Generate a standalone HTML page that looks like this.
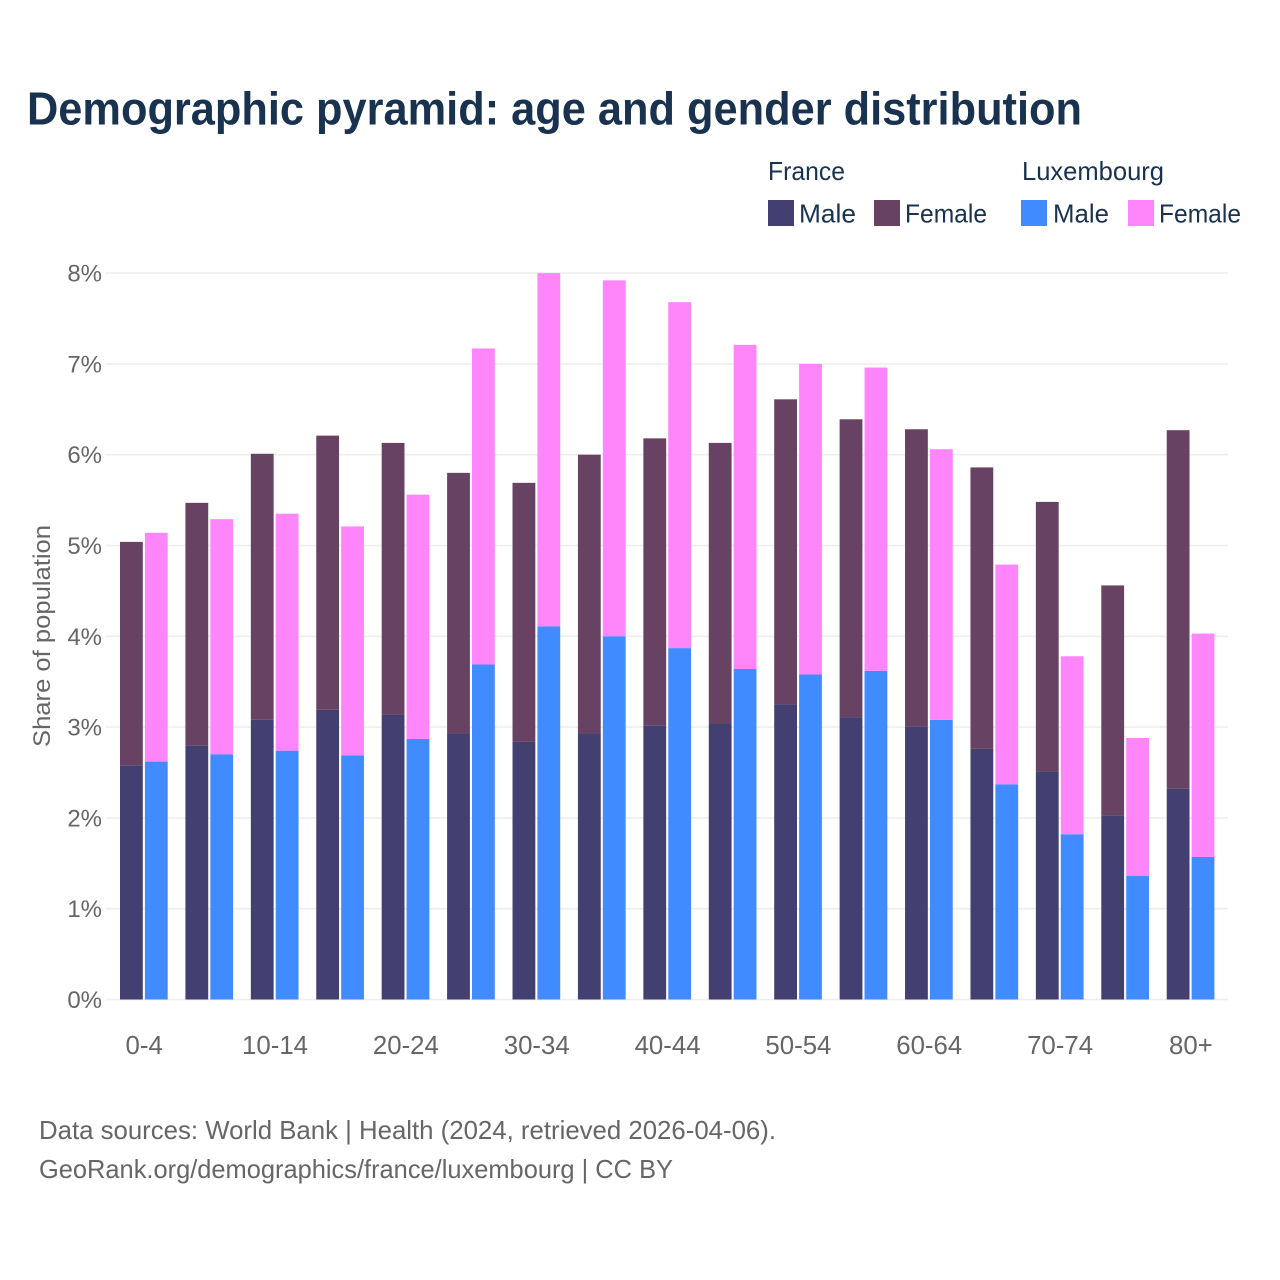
<!DOCTYPE html>
<html lang="en">
<head>
<meta charset="utf-8">
<title>Demographic pyramid: age and gender distribution</title>
<style>
html,body{margin:0;padding:0;background:#fff;width:1280px;height:1280px;overflow:hidden}
svg{display:block}
text{font-family:"Liberation Sans",sans-serif}
.title{font-size:46px;font-weight:700;fill:#193250}
.leg{font-size:26px;fill:#193250}
.tick{font-size:24px;fill:#666}
.foot{font-size:26px;fill:#666}
</style>
</head>
<body>
<svg id="chart" xmlns="http://www.w3.org/2000/svg" width="1280" height="1280" viewBox="0 0 1280 1280">
  <rect width="1280" height="1280" fill="#fff"/>
  <text class="title" x="27" y="124.5" textLength="1055" lengthAdjust="spacingAndGlyphs">Demographic pyramid: age and gender distribution</text>

  <g>
    <text class="leg" x="768" y="180" textLength="77" lengthAdjust="spacingAndGlyphs">France</text>
    <text class="leg" x="1022" y="180" textLength="142" lengthAdjust="spacingAndGlyphs">Luxembourg</text>
    <rect x="768" y="200" width="26" height="26" fill="#433f71"/>
    <text class="leg" x="799" y="222.5" textLength="57" lengthAdjust="spacingAndGlyphs">Male</text>
    <rect x="874" y="200" width="26" height="26" fill="#684263"/>
    <text class="leg" x="905" y="222.5" textLength="82" lengthAdjust="spacingAndGlyphs">Female</text>
    <rect x="1021" y="200" width="26" height="26" fill="#408bff"/>
    <text class="leg" x="1053" y="222.5" textLength="56" lengthAdjust="spacingAndGlyphs">Male</text>
    <rect x="1128" y="200" width="26" height="26" fill="#ff85fb"/>
    <text class="leg" x="1159" y="222.5" textLength="82" lengthAdjust="spacingAndGlyphs">Female</text>
  </g>

  <g id="grid"></g>
  <g id="yticks"></g>
  <g id="bars"></g>
  <g id="xticks"></g>

  <text class="tick" transform="translate(50,636) rotate(-90)" text-anchor="middle" textLength="222" lengthAdjust="spacingAndGlyphs">Share of population</text>

  <text class="foot" x="39" y="1139" textLength="737" lengthAdjust="spacingAndGlyphs">Data sources: World Bank | Health (2024, retrieved 2026-04-06).</text>
  <text class="foot" x="39" y="1178" textLength="634" lengthAdjust="spacingAndGlyphs">GeoRank.org/demographics/france/luxembourg | CC BY</text>
</svg>
<script>
const categories = ["0-4","5-9","10-14","15-19","20-24","25-29","30-34","35-39","40-44","45-49","50-54","55-59","60-64","65-69","70-74","75-79","80+"];
const franceMale = [2.58,2.80,3.08,3.19,3.14,2.93,2.84,2.93,3.02,3.04,3.25,3.11,3.01,2.76,2.51,2.03,2.32];
const franceFemale = [2.46,2.67,2.93,3.02,2.99,2.87,2.85,3.07,3.16,3.09,3.36,3.28,3.27,3.10,2.97,2.53,3.95];
const luxMale = [2.62,2.70,2.74,2.69,2.87,3.69,4.11,4.00,3.87,3.64,3.58,3.62,3.08,2.37,1.82,1.36,1.57];
const luxFemale = [2.52,2.59,2.61,2.52,2.69,3.48,3.89,3.92,3.81,3.57,3.42,3.34,2.98,2.42,1.96,1.52,2.46];
const yTicks = [0,1,2,3,4,5,6,7,8];
const yTickLabels = ["0%","1%","2%","3%","4%","5%","6%","7%","8%"];

const NS = "http://www.w3.org/2000/svg";
const yScale = v => 999.5 - v * 90.8;
const groupLeft = i => 120 + i * 65.42;
const barWidth = 22.8;
const barGap = 24.9;

const grid = document.getElementById("grid");
const yticksGroup = document.getElementById("yticks");
yTicks.forEach((t, i) => {
  const l = document.createElementNS(NS, "line");
  
  
  l.setAttribute("x1", 106);
  l.setAttribute("x2", 1228);
  l.setAttribute("y1", yScale(t));
  l.setAttribute("y2", yScale(t));
  l.setAttribute("stroke", "#eeeeee");
  l.setAttribute("stroke-width", 1.6);
  grid.appendChild(l);
  const tx = document.createElementNS(NS, "text");
  
  
  tx.setAttribute("class", "tick");
  tx.setAttribute("x", 102);
  tx.setAttribute("y", yScale(t) + 8.5);
  tx.setAttribute("text-anchor", "end");
  tx.textContent = yTickLabels[i];
  yticksGroup.appendChild(tx);
});

const barsGroup = document.getElementById("bars");
function addBar(x, bottom, value, fill) {
  const r = document.createElementNS(NS, "rect");
  
  
  r.setAttribute("x", x);
  r.setAttribute("y", yScale(bottom + value));
  r.setAttribute("width", barWidth);
  r.setAttribute("height", yScale(bottom) - yScale(bottom + value));
  r.setAttribute("fill", fill);
  barsGroup.appendChild(r);
}
const xticksGroup = document.getElementById("xticks");
categories.forEach((c, i) => {
  const x = groupLeft(i);
  addBar(x, 0, franceMale[i], "#433f71");
  addBar(x, franceMale[i], franceFemale[i], "#684263");
  addBar(x + barGap, 0, luxMale[i], "#408bff");
  addBar(x + barGap, luxMale[i], luxFemale[i], "#ff85fb");
  if (i % 2 === 0) {
    const tx = document.createElementNS(NS, "text");
    
    
    tx.setAttribute("class", "tick");
    tx.setAttribute("x", x + 24.2);
    tx.setAttribute("y", 1054);
    tx.setAttribute("text-anchor", "middle");
    tx.style.fontSize = "25.8px";
    tx.textContent = c;
    xticksGroup.appendChild(tx);
  }
});
</script>
</body>
</html>
